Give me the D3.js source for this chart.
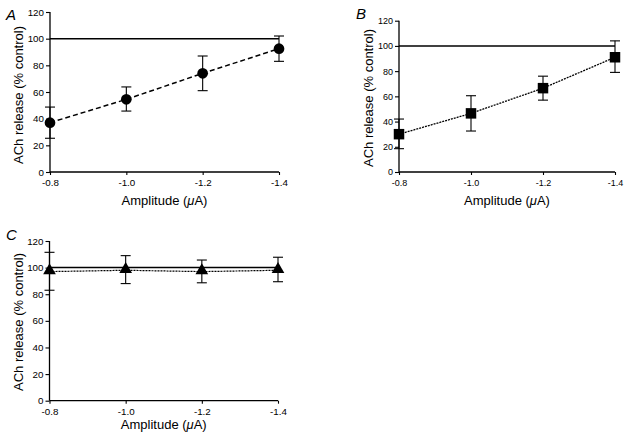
<!DOCTYPE html>
<html><head><meta charset="utf-8">
<script src="https://cdn.jsdelivr.net/npm/d3@7"></script>
<style>body{margin:0;background:#fff}svg{display:block}</style>
</head><body>
<svg id="c" width="627" height="440"></svg>
<script>
const categories = ["-0.8", "-1.0", "-1.2", "-1.4"];
const yTicks = [0, 20, 40, 60, 80, 100, 120];
const refValue = 100;

const meanA = [37, 54.5, 74, 92.5];
const lowA  = [25.3, 45.7, 61, 83];
const highA = [48.7, 63.8, 87, 102];

const meanB = [30, 46.5, 66.5, 91];
const lowB  = [18.5, 32.5, 57, 79];
const highB = [42, 60.5, 76, 104];

const meanC = [97, 98, 97, 98];
const lowC  = [83, 88, 88.6, 89.4];
const highC = [111.5, 109, 105.7, 107.8];

const svg = d3.select("#c");
const font = "'Liberation Sans', Arial, Helvetica, sans-serif";

function panel(o) {
  const x = d3.scalePoint().domain(categories).range([o.x0, o.x1]);
  const y = d3.scaleLinear().domain([0, 120]).range([o.y0, o.y1]);
  const g = svg.append("g");

  const ya = d3.axisLeft(y).tickValues(yTicks).tickSize(4).tickPadding(2);
  const yg = g.append("g").attr("transform", `translate(${o.x0},0)`).call(ya);
  const xa = d3.axisBottom(x).tickSize(3).tickPadding(o.xpad);
  const xg = g.append("g").attr("transform", `translate(0,${o.y0})`).call(xa);
  [yg, xg].forEach(a => {
    a.select(".domain").attr("stroke", "#000").attr("stroke-width", 1.3);
    a.selectAll(".tick line").attr("stroke", "#000").attr("stroke-width", 1.1);
    a.selectAll("text").attr("font-family", font).attr("font-size", o.tfs).attr("fill", "#000");
  });
  xg.select(".domain").attr("d", `M${o.x0},0H${o.x1}`);
  yg.select(".domain").attr("d", `M0,${o.y0}V${o.y1}`);

  g.append("line").attr("x1", o.x0).attr("x2", o.x1)
    .attr("y1", y(refValue)).attr("y2", y(refValue))
    .attr("stroke", "#000").attr("stroke-width", 1.5);

  const pts = categories.map((c, i) => [x(c), y(o.mean[i])]);
  g.append("path").attr("d", d3.line()(pts)).attr("fill", "none")
    .attr("stroke", "#000").attr("stroke-width", o.lw).attr("stroke-dasharray", o.dash);

  const cw = 5;
  categories.forEach((c, i) => {
    const cx = x(c);
    g.append("line").attr("x1", cx).attr("x2", cx).attr("y1", y(o.low[i])).attr("y2", y(o.high[i]))
      .attr("stroke", "#000").attr("stroke-width", 1.1);
    [o.low[i], o.high[i]].forEach(v => {
      g.append("line").attr("x1", cx - cw).attr("x2", cx + cw).attr("y1", y(v)).attr("y2", y(v))
        .attr("stroke", "#000").attr("stroke-width", 1.1);
    });
  });

  const sym = d3.symbol().type(o.sym).size(o.symSize);
  categories.forEach((c, i) => {
    g.append("path").attr("d", sym())
      .attr("transform", `translate(${x(c)},${y(o.mean[i]) + (o.dy || 0)})`)
      .attr("fill", "#000");
  });

  g.append("text").attr("x", (o.x0 + o.x1) / 2).attr("y", o.xtY)
    .attr("text-anchor", "middle").attr("font-family", font).attr("font-size", 13)
    .html('Amplitude (<tspan font-style="italic">μ</tspan>A)');
  g.append("text").attr("transform", `translate(${o.ytX},${o.ytY}) rotate(-90)`)
    .attr("text-anchor", "middle").attr("font-family", font).attr("font-size", 13)
    .text("ACh release (% control)");
  g.append("text").attr("x", o.lx).attr("y", o.ly).attr("font-family", font)
    .attr("font-size", 15).attr("font-style", "italic").text(o.label);
}

panel({x0: 50, x1: 279, y0: 172, y1: 12, mean: meanA, low: lowA, high: highA,
  sym: d3.symbolCircle, symSize: 90, dash: "5,3", lw: 1.5, tfs: 9.8, xpad: 4.5,
  xtY: 205, ytX: 23, ytY: 95, label: "A", lx: 6, ly: 20});
panel({x0: 399, x1: 615, y0: 172, y1: 20.7, mean: meanB, low: lowB, high: highB,
  sym: d3.symbolSquare, symSize: 110, dash: "2,1", lw: 1.3, tfs: 9, xpad: 4.5,
  xtY: 205, ytX: 373, ytY: 98, label: "B", lx: 356, ly: 19});
panel({x0: 49.5, x1: 278, y0: 400.7, y1: 241, mean: meanC, low: lowC, high: highC,
  sym: d3.symbolTriangle, symSize: 70, dash: "2,1", lw: 1.2, tfs: 9.8, xpad: 4.5, dy: -1,
  xtY: 429, ytX: 23, ytY: 322, label: "C", lx: 6, ly: 240});
</script>
</body></html>
